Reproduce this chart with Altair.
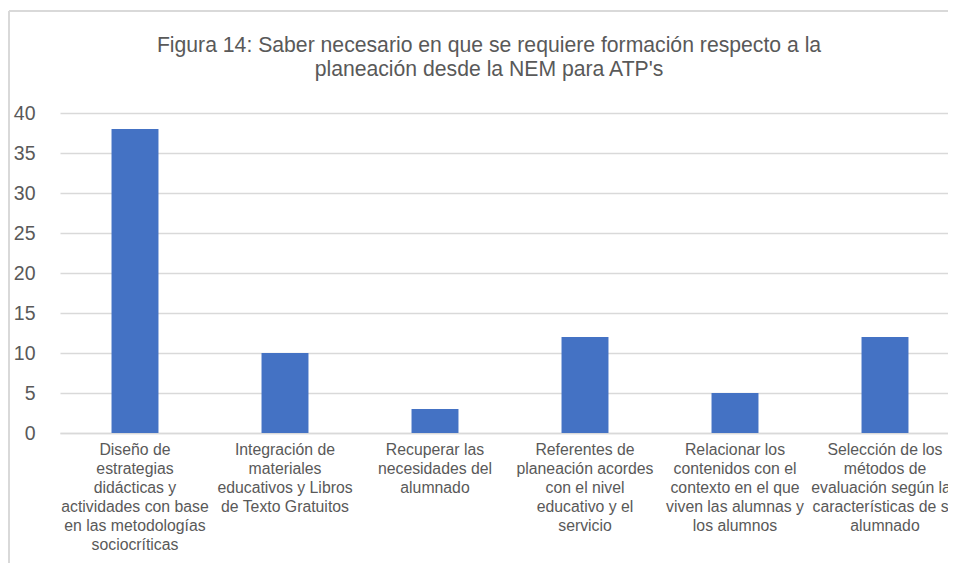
import altair as alt
import pandas as pd

categories = [
    "Diseño de\nestrategias\ndidácticas y\nactividades con base\nen las metodologías\nsociocríticas",
    "Integración de\nmateriales\neducativos y Libros\nde Texto Gratuitos",
    "Recuperar las\nnecesidades del\nalumnado",
    "Referentes de\nplaneación acordes\ncon el nivel\neducativo y el\nservicio",
    "Relacionar los\ncontenidos con el\ncontexto en el que\nviven las alumnas y\nlos alumnos",
    "Selección de los\nmétodos de\nevaluación según las\ncaracterísticas de su\nalumnado",
]
values = [38, 10, 3, 12, 5, 12]
y_ticks = [0, 5, 10, 15, 20, 25, 30, 35, 40]
title_lines = [
    "Figura 14: Saber necesario en que se requiere formación respecto a la",
    "planeación desde la NEM para ATP's",
]

df = pd.DataFrame({"cat": categories, "val": values})

GRAY = "#595959"
GRID = "#D9D9D9"
FONT = "Liberation Sans"

bars = alt.Chart(df).mark_bar(color="#4472C4").encode(
    x=alt.X(
        "cat:N",
        sort=None,
        title=None,
        scale=alt.Scale(range=[0, 900], paddingInner=0.687, paddingOuter=0.3435),
        axis=alt.Axis(
            labelExpr="split(datum.value, '\\n')",
            labelAngle=0,
            labelAlign="center",
            labelBaseline="top",
            labelFont=FONT,
            labelFontSize=15.8,
            labelLineHeight=19,
            labelColor=GRAY,
            labelLimit=400,
            labelPadding=9,
            ticks=False,
            domain=True,
            domainColor=GRID,
            domainWidth=1.5,
            grid=False,
        ),
    ),
    y=alt.Y(
        "val:Q",
        title=None,
        scale=alt.Scale(domain=[0, 40], nice=False),
        axis=alt.Axis(
            values=y_ticks,
            labelFont=FONT,
            labelFontSize=19.5,
            labelColor=GRAY,
            labelPadding=25,
            ticks=False,
            domain=False,
            grid=True,
            gridColor=GRID,
            gridWidth=1.5,
        ),
    ),
)

frame_data = alt.Data(values=[{"k": 1}])
frame_left = alt.Chart(frame_data).mark_rule(color=GRID, strokeWidth=2).encode(
    x=alt.value(-51), y=alt.value(-102), y2=alt.value(470)
)
frame_top = alt.Chart(frame_data).mark_rule(color=GRID, strokeWidth=2).encode(
    x=alt.value(-51), x2=alt.value(920), y=alt.value(-102)
)

chart = alt.layer(bars, frame_left, frame_top).properties(
    width=888,
    height=320,
    title=alt.TitleParams(
        text=title_lines,
        anchor="middle",
        frame="group",
        font=FONT,
        fontSize=21.2,
        fontWeight="normal",
        color=GRAY,
        lineHeight=23.5,
        dx=-15,
        dy=70,
        offset=0,
    ),
    autosize=alt.AutoSizeParams(type="none"),
    padding={"left": 52, "top": 105, "right": 0, "bottom": 130},
).configure_view(stroke=None)

chart.save("out.html", embed_options={"renderer": "svg", "actions": False})
